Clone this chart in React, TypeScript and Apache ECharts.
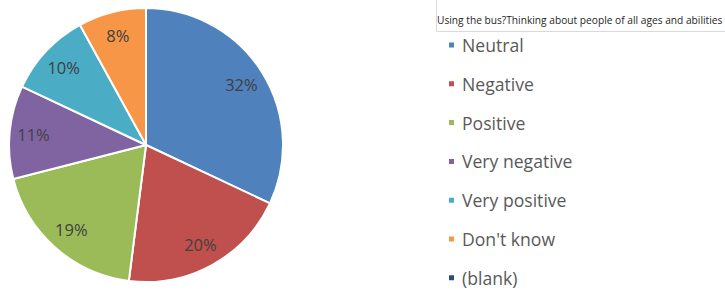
import React, { useEffect, useRef } from "react";
import * as echarts from "echarts";

const categories = ["Neutral", "Negative", "Positive", "Very negative", "Very positive", "Don't know", "(blank)"];
const values = [32, 20, 19, 11, 10, 8, 0];
const colors = ["#4F81BD", "#C0504D", "#9BBB59", "#8064A2", "#4BACC6", "#F79646", "#2C4D75"];
const titleText = "Using the bus?Thinking about people of all ages and abilities";

export default function App() {
  const ref = useRef<HTMLDivElement>(null);
  useEffect(() => {
    document.body.style.margin = "0";
    const chart = echarts.init(ref.current!, null, { renderer: "svg" });
    const data = categories.map((c, i) => ({ name: c, value: values[i], itemStyle: { color: colors[i] } }));
    chart.setOption({
      animation: false,
      color: colors,
      title: {
        text: titleText,
        left: 432,
        top: 10,
        textStyle: { fontFamily: "Open Sans", fontSize: 10.2, fontWeight: "normal", color: "#262626" },
      },
      graphic: [
        {
          type: "polyline",
          shape: { points: [[436.5, 0], [436.5, 31.5], [725, 31.5]] },
          style: { stroke: "#d9d9d9", lineWidth: 1, fill: "none" },
          silent: true,
        },
      ],
      legend: {
        orient: "vertical",
        left: 447,
        top: 36,
        padding: 0,
        height: 255,
        itemWidth: 7,
        itemHeight: 7,
        itemGap: 20.8,
        icon: "rect",
        data: categories,
        textStyle: { fontFamily: "Open Sans", fontSize: 17.6, color: "#595959", lineHeight: 18, padding: [0, 0, 0, 2] },
      },
      series: [
        {
          type: "pie",
          center: [146, 145],
          radius: [0, 137],
          startAngle: 90,
          clockwise: true,
          data,
          label: { show: false },
          labelLine: { show: false },
          itemStyle: { borderColor: "#ffffff", borderWidth: 2 },
          emphasis: { disabled: true },
        },
        {
          type: "pie",
          center: [146, 145],
          radius: [83, 137],
          startAngle: 90,
          clockwise: true,
          silent: true,
          data: categories.map((c, i) => ({ name: c, value: values[i] })),
          itemStyle: { color: "rgba(0,0,0,0)" },
          label: {
            show: true,
            position: "inside",
            formatter: (p: any) => (p.value > 0 ? p.value + "%" : ""),
            fontFamily: "Open Sans",
            fontSize: 16.5,
            color: "#404040",
          },
          labelLine: { show: false },
          emphasis: { disabled: true },
        },
      ],
    });
    return () => chart.dispose();
  }, []);
  return <div ref={ref} style={{ width: 725, height: 291 }} />;
}
